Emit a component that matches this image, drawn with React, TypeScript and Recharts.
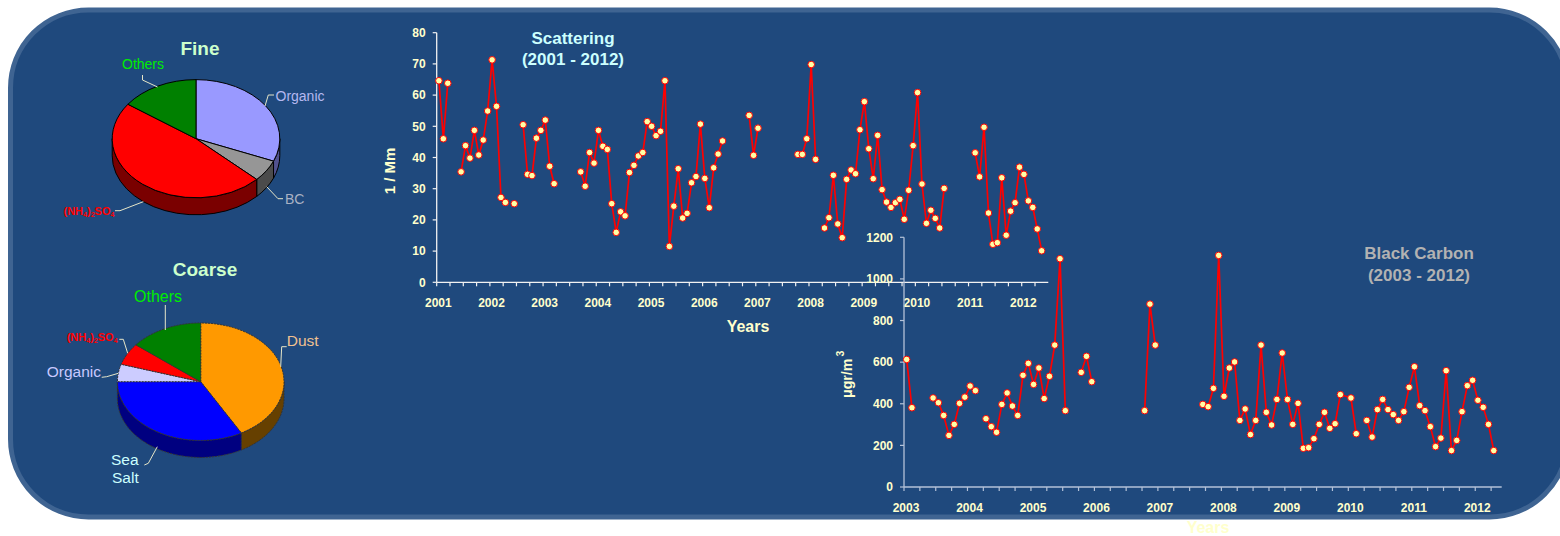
import React from "react";
import { LineChart, Line, XAxis, YAxis, PieChart, Pie } from "recharts";

const _ = null;

// ---- Scattering, monthly, Jan 2001 - Jun 2012 ----
const scatteringYears = [2001, 2002, 2003, 2004, 2005, 2006, 2007, 2008, 2009, 2010, 2011, 2012];
const scatteringValues = [
  64.6, 46, 63.8, _, _, 35.4, 43.8, 39.8, 48.7, 40.8, 45.6, 54.9,
  71.3, 56.4, 27.2, 25.6, _, 25.2, _, 50.5, 34.6, 34.2, 46.2, 48.7,
  52, 37.2, 31.6, _, _, _, _, _, 35.4, 30.8, 41.6, 38.2,
  48.7, 43.6, 42.6, 25.2, 16, 22.6, 21.3, 35.2, 37.5, 40.5, 41.6, 51.5,
  50, 47, 48.4, 64.6, 11.5, 24.4, 36.4, 20.6, 22.1, 31.9, 33.9, 50.7,
  33.3, 23.9, 36.7, 41.1, 45.3, _, _, _, _, _, 53.5, 40.7,
  49.4, _, _, _, _, _, _, _, _, 41, 41, 46,
  69.8, 39.4, _, 17.4, 20.7, 34.3, 18.7, 14.3, 33, 36, 34.8, 48.9,
  57.9, 42.8, 33.2, 47.1, 29.7, 25.7, 24, 25.5, 26.6, 20.2, 29.5, 43.8,
  60.8, 31.5, 18.9, 23.1, 20.5, 17.4, 30.1, _, _, _, _, _,
  _, 41.5, 33.8, 49.7, 22.2, 12.2, 12.7, 33.5, 15.1, 22.8, 25.5, 36.9,
  34.6, 26.1, 24, 17.1, 10.1, _,
];
const scatteringTicks = [0, 10, 20, 30, 40, 50, 60, 70, 80];

// ---- Black carbon, monthly, Jan 2003 - May 2012 ----
const carbonYears = [2003, 2004, 2005, 2006, 2007, 2008, 2009, 2010, 2011, 2012];
const carbonValues = [
  613, 381, _, _, _, 428, 405, 344, 248, 301, 402, 432,
  485, 463, _, 328, 290, 263, 397, 452, 389, 344, 537, 594,
  493, 572, 425, 532, 682, 1097, 367, _, _, 551, 628, 506,
  _, _, _, _, _, _, _, _, _, 367, 879, 682,
  _, _, _, _, _, _, _, _, 397, 386, 474, 1113,
  436, 572, 601, 320, 375, 252, 320, 682, 359, 298, 421, 644,
  421, 301, 402, 186, 189, 232, 301, 359, 282, 304, 444, 436,
  428, 256, _, 320, 240, 372, 421, 372, 348, 320, 362, 479,
  578, 391, 367, 290, 194, 235, 559, 175, 224, 362, 487, 513,
  417, 383, 301, 175, _,
];
const carbonUnmarked = [83];
const carbonTicks = [0, 200, 400, 600, 800, 1000, 1200];

// ---- Pies ----
const fineNames = ["Organic", "BC", "(NH4)2SO4", "Others"];
const fineValues = [31.2, 5.9, 47.8, 15.1];
const fineColors = ["#9999ff", "#969696", "#ff0000", "#008000"];
const fineSides = ["#52528f", "#4b4b4b", "#7a0000", "#004000"];

const coarseNames = ["Dust", "Sea Salt", "Organic", "(NH4)2SO4", "Others"];
const coarseValues = [41.9, 33.1, 4.8, 6.0, 14.2];
const coarseColors = ["#ff9900", "#0000ff", "#ccccff", "#ff0000", "#008000"];
const coarseSides = ["#664000", "#000080", "#666680", "#800000", "#004000"];

const FONT = "'Liberation Sans', Arial, sans-serif";
const CREAM = "#ffffcc";
const PIE_TILT = 0.705;
const PIE_DEPTH = 17;

const toRows = (values: (number | null)[], start: number) =>
  values.map((v, i) => ({
    month: `${start + Math.floor(i / 12)}-${(i % 12) + 1}`,
    value: v,
  }));
const quarterTicks = (rows: { month: string }[]) =>
  rows.filter((_r, i) => i % 3 === 0).map((r) => r.month);

const scatteringRows = toRows(scatteringValues, scatteringYears[0]);
const carbonRows = toRows(carbonValues, carbonYears[0]);

const ellipsePoint = (cx: number, cy: number, r: number, deg: number, dy = 0) => {
  const a = (deg * Math.PI) / 180;
  return [cx + r * Math.cos(a), cy - r * PIE_TILT * Math.sin(a) + dy];
};

function TopShape(p: any) {
  const { cx, cy, outerRadius: r, startAngle: s, endAngle: e, fill, stroke, strokeWidth, strokeDasharray } = p;
  const [x0, y0] = ellipsePoint(cx, cy, r, s);
  const [x1, y1] = ellipsePoint(cx, cy, r, e);
  const large = Math.abs(s - e) > 180 ? 1 : 0;
  return (
    <path
      d={`M${cx},${cy}L${x0},${y0}A${r},${r * PIE_TILT} 0 ${large} 1 ${x1},${y1}Z`}
      fill={fill}
      stroke={stroke}
      strokeWidth={strokeWidth}
      strokeDasharray={strokeDasharray}
      strokeLinejoin="round"
    />
  );
}

function WallShape(p: any) {
  const { cx, cy, outerRadius: r, startAngle: s, endAngle: e, fill, stroke, strokeWidth, strokeDasharray } = p;
  const hi = Math.min(s, 0);
  const lo = Math.max(e, -180);
  if (hi <= lo) return <g />;
  const [x0, y0] = ellipsePoint(cx, cy, r, hi);
  const [x1, y1] = ellipsePoint(cx, cy, r, lo);
  const ry = r * PIE_TILT;
  return (
    <path
      d={`M${x0},${y0}A${r},${ry} 0 0 1 ${x1},${y1}L${x1},${y1 + PIE_DEPTH}A${r},${ry} 0 0 0 ${x0},${y0 + PIE_DEPTH}Z`}
      fill={fill}
      stroke={stroke}
      strokeWidth={strokeWidth}
      strokeDasharray={strokeDasharray}
    />
  );
}

function Pie3D({ names, values, colors, sides, cx, cy, r, stroke, dash }: any) {
  const top = names.map((n: string, i: number) => ({ name: n, value: values[i], fill: colors[i] }));
  const wall = names.map((n: string, i: number) => ({ name: n, value: values[i], fill: sides[i] }));
  const common = {
    dataKey: "value",
    nameKey: "name",
    cx,
    cy,
    innerRadius: 0,
    outerRadius: r,
    startAngle: 90,
    endAngle: -270,
    isAnimationActive: false,
    stroke,
    strokeWidth: 1,
    strokeDasharray: dash,
    paddingAngle: 0,
    label: false,
    labelLine: false,
  } as any;
  return (
    <PieChart
      width={400}
      height={536}
      margin={{ top: 0, right: 0, bottom: 0, left: 0 }}
      style={{ position: "absolute", left: 0, top: 0 }}
    >
      <Pie {...common} data={wall} shape={WallShape} activeShape={WallShape} />
      <Pie {...common} data={top} shape={TopShape} activeShape={TopShape} />
    </PieChart>
  );
}

const makeXTick = (axisTick: number, halfBand: number, color: string) =>
  function XTick(p: any) {
    const { x, y, payload } = p;
    const [yr, m] = String(payload.value).split("-");
    return (
      <g>
        <line x1={x - halfBand} x2={x - halfBand} y1={y - axisTick} y2={y} stroke={color} strokeWidth={1.2} />
        {m === "1" ? (
          <text x={x - 0.6} y={y + 21} textAnchor="middle" fontFamily={FONT} fontSize={12} fontWeight="bold" fill={CREAM}>
            {yr}
          </text>
        ) : null}
      </g>
    );
  };

const makeDot = (skip: number[]) =>
  function MonthDot(p: any) {
    const { cx, cy, index, value } = p;
    if (value == null || cy == null || skip.includes(index)) return <g key={index} />;
    return <circle key={index} cx={cx} cy={cy} r={3.3} fill="#ffffa6" stroke="#ff0000" strokeWidth={1} />;
  };

function Series({ rows, ticks, domainMax, left, right, top, bottom, axisColor, skip }: any) {
  const band = (right - left) / rows.length;
  const yWidth = 40;
  const xHeight = 30;
  return (
    <LineChart
      width={1560}
      height={536}
      data={rows}
      margin={{ left: left - yWidth, right: 1560 - right, top, bottom: 536 - bottom - xHeight }}
      style={{ position: "absolute", left: 0, top: 0 }}
    >
      <XAxis
        dataKey="month"
        ticks={quarterTicks(rows)}
        interval={0}
        height={xHeight}
        padding={{ left: band / 2, right: band / 2 }}
        axisLine={{ stroke: axisColor, strokeWidth: 1.3 }}
        tickLine={false}
        tickSize={4}
        tickMargin={0}
        tick={makeXTick(4, band / 2, axisColor)}
      />
      <YAxis
        width={yWidth}
        domain={[0, domainMax]}
        ticks={ticks}
        interval={0}
        axisLine={{ stroke: axisColor, strokeWidth: 1.3 }}
        tickLine={{ stroke: axisColor, strokeWidth: 1.2 }}
        tickSize={4}
        tickMargin={7}
        tick={{ fill: CREAM, fontFamily: FONT, fontSize: 12, fontWeight: "bold" }}
      />
      <Line
        dataKey="value"
        stroke="#ff0000"
        strokeWidth={1.7}
        isAnimationActive={false}
        connectNulls={false}
        dot={makeDot(skip)}
        activeDot={false}
      />
    </LineChart>
  );
}

const leaders = [
  "142.5,75 142.5,80 157.5,87",
  "265,106 268.3,95 274,95",
  "266.7,186.7 278,198.7 283,198.7",
  "115,210.7 120,210.7 143.3,201.7",
  "165.3,305 165.3,330",
  "119.3,339.3 123.3,339.3 127.7,353.3",
  "101.7,377.3 106.7,376.7 118.3,373.3",
  "286.7,346.7 281.7,346.7 280.7,366.7",
  "144.3,465 148.3,463.3 157.3,446.7",
];

function Txt({ x, y, size, color, bold, anchor, children }: any) {
  return (
    <text
      x={x}
      y={y}
      fontSize={size}
      fill={color}
      fontWeight={bold ? "bold" : "normal"}
      textAnchor={anchor || "start"}
      fontFamily={FONT}
    >
      {children}
    </text>
  );
}

function Sulfate({ x, y }: any) {
  return (
    <text x={x} y={y} fontSize={11} fontWeight="bold" fill="#ff0000" fontFamily={FONT}>
      (NH
      <tspan fontSize={7} dy={2}>4</tspan>
      <tspan dy={-2}>)</tspan>
      <tspan fontSize={7} dy={2}>2</tspan>
      <tspan dy={-2}>SO</tspan>
      <tspan fontSize={7} dy={2}>4</tspan>
    </text>
  );
}

export default function App() {
  return (
    <div style={{ position: "absolute", left: 0, top: 0, width: 1560, height: 536, overflow: "hidden", background: "#fff" }}>
      <svg width={1560} height={536} style={{ position: "absolute", left: 0, top: 0 }}>
        <rect x={10.5} y={10} width={1557} height={507} rx={78} ry={78} fill="#1f497d" stroke="#3f6492" strokeWidth={5} />
      </svg>

      <Pie3D names={fineNames} values={fineValues} colors={fineColors} sides={fineSides} cx={196} cy={138.7} r={83.8} stroke="#000000" />
      <Pie3D names={coarseNames} values={coarseValues} colors={coarseColors} sides={coarseSides} cx={200.7} cy={381.7} r={83.3} stroke="#333333" dash="2 1" />

      <Series rows={scatteringRows} ticks={scatteringTicks} domainMax={80} left={436.7} right={1048.3} top={32.7} bottom={282.3} axisColor="#f2f2f2" skip={[]} />
      <Series rows={carbonRows} ticks={carbonTicks} domainMax={1200} left={904} right={1501.7} top={237.3} bottom={487} axisColor="#b4c2d8" skip={carbonUnmarked} />

      <svg width={1560} height={536} style={{ position: "absolute", left: 0, top: 0 }}>
        {leaders.map((pts, i) => (
          <polyline key={i} points={pts} fill="none" stroke="#e6e6c8" strokeWidth={1} />
        ))}

        <Txt x={200} y={55} size={19} color="#ccffcc" bold anchor="middle">Fine</Txt>
        <Txt x={205} y={276} size={19} color="#ccffcc" bold anchor="middle">Coarse</Txt>

        <Txt x={122} y={69} size={14} color="#00ee00">Others</Txt>
        <Txt x={275.5} y={101} size={14} color="#b4b8f0">Organic</Txt>
        <Txt x={285} y={204} size={14} color="#aab2c4">BC</Txt>
        <Sulfate x={63.5} y={215} />

        <Txt x={134} y={302.3} size={16} color="#00ee00">Others</Txt>
        <Sulfate x={66.7} y={340.7} />
        <Txt x={46.7} y={377} size={15.5} color="#c8c8ff">Organic</Txt>
        <Txt x={286.7} y={346} size={15.5} color="#f0c090">Dust</Txt>
        <Txt x={111} y={465} size={15.5} color="#ccffff">Sea</Txt>
        <Txt x={112} y={483} size={15.5} color="#ccffff">Salt</Txt>

        <Txt x={573} y={44.3} size={17} color="#ccffff" bold anchor="middle">Scattering</Txt>
        <Txt x={573} y={65} size={17} color="#ccffff" bold anchor="middle">(2001 - 2012)</Txt>
        <Txt x={1419} y={259} size={17} color="#b2b2b2" bold anchor="middle">Black Carbon</Txt>
        <Txt x={1419} y={280.7} size={17} color="#b2b2b2" bold anchor="middle">(2003 - 2012)</Txt>

        <Txt x={748} y={331.7} size={16} color={CREAM} bold anchor="middle">Years</Txt>
        <Txt x={1208} y={532.5} size={16} color={CREAM} bold anchor="middle">Years</Txt>

        <text transform="translate(395,171) rotate(-90)" textAnchor="middle" fontFamily={FONT} fontSize={15} fontWeight="bold" fill={CREAM}>
          1 / Mm
        </text>
        <text transform="translate(852,398) rotate(-90)" fontFamily={FONT} fontSize={14.2} fontWeight="bold" fill={CREAM}>
          μgr/m
          <tspan fontSize={10.5} dx={2} dy={-8}>3</tspan>
        </text>
      </svg>
    </div>
  );
}
